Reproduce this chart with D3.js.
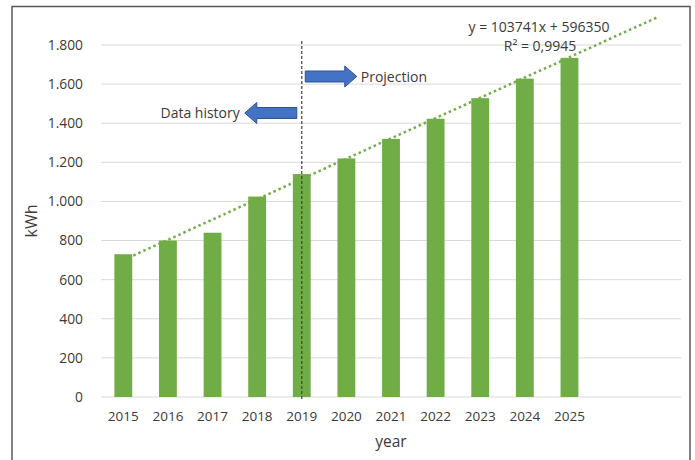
<!doctype html>
<html lang="en">
<head>
    <meta charset="utf-8">
    <title>kWh by year with projection</title>
    <script src="https://cdn.jsdelivr.net/npm/d3@7"></script>
    <style>
        body { margin: 0; background: #fff; }
        text { font-family: "Open Sans", sans-serif; fill: #3a3a3a; }
    </style>
</head>
<body>
    <svg id="chart" width="695" height="460"></svg>
<script>
    // data
    var years = [2015, 2016, 2017, 2018, 2019, 2020, 2021, 2022, 2023, 2024, 2025];
    var kwh = [730, 800, 840, 1025, 1140, 1220, 1320, 1423, 1528, 1628, 1734];
    var yTicks = [0, 200, 400, 600, 800, 1000, 1200, 1400, 1600, 1800];
    var forecastSlots = 2;               // trendline forward forecast periods
    var trendSlope = 103741, trendIntercept = 596350, trendR2 = "0,9945";
    var splitYear = 2019;

    var svg = d3.select("#chart");
    var plotL = 101, plotR = 681, plotT = 45, plotB = 397;

    // outer frame
    svg.append("path")
        .attr("d", "M12,462V6.5H690V462")
        .attr("fill", "none").attr("stroke", "#595959").attr("stroke-width", 1.5);

    var slots = d3.range(1, years.length + forecastSlots + 1);
    var x = d3.scaleBand().domain(slots).range([plotL, plotR]).paddingInner(0.6).paddingOuter(0.3);
    var y = d3.scaleLinear().domain([0, 1800]).range([plotB, plotT]);
    var cx = i => x(i) + x.bandwidth() / 2;

    var fmt = d3.formatLocale({ decimal: ",", thousands: ".", grouping: [3], currency: ["", ""] }).format(",");

    // gridlines
    svg.append("g").selectAll("line").data(yTicks).join("line")
        .attr("x1", plotL).attr("x2", plotR)
        .attr("y1", d => y(d)).attr("y2", d => y(d))
        .attr("stroke", "#d9d9d9").attr("stroke-width", 1);

    // y axis labels
    var ya = svg.append("g").attr("transform", `translate(${plotL},0)`)
        .call(d3.axisLeft(y).tickValues(yTicks).tickFormat(fmt).tickSize(0).tickPadding(18));
    ya.select(".domain").remove();
    ya.selectAll("text").attr("font-size", 13.8).attr("fill", "#3a3a3a").style("font-family", "Open Sans");

    // x axis labels
    var xa = svg.append("g").attr("transform", `translate(0,${plotB})`)
        .call(d3.axisBottom(x).tickFormat(i => years[i - 1] || "").tickSize(0).tickPadding(14));
    xa.select(".domain").remove();
    xa.selectAll("text").attr("font-size", 13.5).attr("fill", "#3a3a3a").style("font-family", "Open Sans");

    // trendline (behind bars)
    var t0 = 1, t1 = slots.length;
    var trend = t => (trendSlope * t + trendIntercept) / 1000;
    svg.append("line")
        .attr("x1", cx(t0)).attr("y1", y(trend(t0)))
        .attr("x2", cx(t1)).attr("y2", y(trend(t1)))
        .attr("stroke", "#70ad47").attr("stroke-width", 2.5)
        .attr("stroke-dasharray", "2.5,3");

    // bars
    svg.append("g").selectAll("rect").data(kwh).join("rect")
        .attr("x", (d, i) => x(i + 1)).attr("width", x.bandwidth())
        .attr("y", d => y(d)).attr("height", d => plotB - y(d))
        .attr("fill", "#70ad47");

    // divider at split year
    var sx = cx(years.indexOf(splitYear) + 1);
    svg.append("line")
        .attr("x1", sx).attr("x2", sx).attr("y1", 41).attr("y2", 399)
        .attr("stroke", "#404040").attr("stroke-width", 1.2).attr("stroke-dasharray", "3,2");

    // arrows
    function arrow(x0, x1, yc, dir) {
        var hb = 5.5, hh = 10.5, hl = 12;
        var xh = x1 - dir * hl;
        return `M${x0},${yc - hb}L${xh},${yc - hb}L${xh},${yc - hh}L${x1},${yc}L${xh},${yc + hh}L${xh},${yc + hb}L${x0},${yc + hb}Z`;
    }
    svg.append("path").attr("d", arrow(sx + 3.5, sx + 55, 76.5, 1))
        .attr("fill", "#4472c4").attr("stroke", "#2f528f").attr("stroke-width", 1);
    svg.append("path").attr("d", arrow(sx - 5, sx - 57, 113, -1))
        .attr("fill", "#4472c4").attr("stroke", "#2f528f").attr("stroke-width", 1);

    svg.append("text").attr("x", sx + 59).attr("y", 82).attr("font-size", 14).text("Projection");
    svg.append("text").attr("x", sx - 62).attr("y", 118).attr("font-size", 14)
        .attr("text-anchor", "end").text("Data history");

    // trend equation
    svg.append("text").attr("x", 539).attr("y", 32).attr("font-size", 14).attr("text-anchor", "middle")
        .text(`y = ${trendSlope}x + ${trendIntercept}`);
    svg.append("text").attr("x", 540).attr("y", 51).attr("font-size", 14).attr("text-anchor", "middle")
        .text(`R² = ${trendR2}`);

    // axis titles
    svg.append("text").attr("x", 391).attr("y", 447).attr("font-size", 15.5).attr("text-anchor", "middle").text("year");
    svg.append("text").attr("transform", "translate(37,221) rotate(-90)")
        .attr("font-size", 16).attr("text-anchor", "middle").text("kWh");
</script>
</body>
</html>
